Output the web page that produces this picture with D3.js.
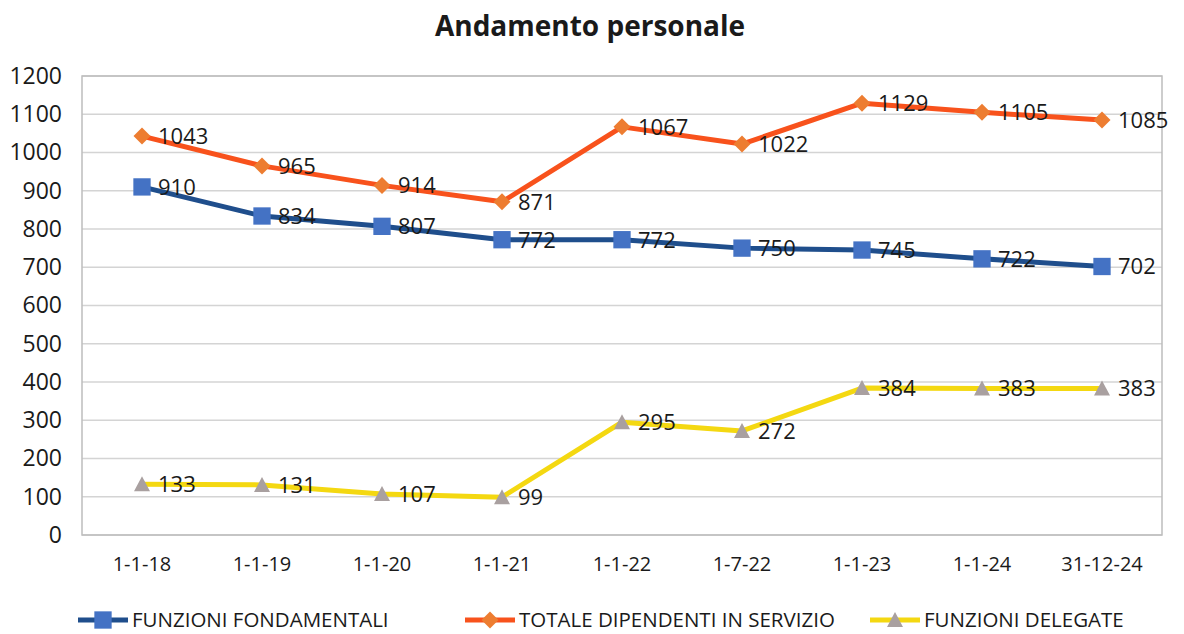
<!DOCTYPE html>
<html lang="it">
<head>
<meta charset="UTF-8">
<title>Andamento personale</title>
<script src="https://d3js.org/d3.v7.min.js"></script>
<style>
  body { margin: 0; background: #fff; }
  text { font-family: "Open Sans", "Noto Sans", sans-serif; fill: #1a1a1a; }
</style>
</head>
<body>
<script>
  var categories = ["1-1-18", "1-1-19", "1-1-20", "1-1-21", "1-1-22", "1-7-22", "1-1-23", "1-1-24", "31-12-24"];
  var fondamentali = [910, 834, 807, 772, 772, 750, 745, 722, 702];
  var totale = [1043, 965, 914, 871, 1067, 1022, 1129, 1105, 1085];
  var delegate = [133, 131, 107, 99, 295, 272, 384, 383, 383];
  var yTicks = [0, 100, 200, 300, 400, 500, 600, 700, 800, 900, 1000, 1100, 1200];

  var series = [
    { name: "FUNZIONI FONDAMENTALI", values: fondamentali, line: "#1f4e8c", marker: "#4472c4", shape: "square" },
    { name: "TOTALE DIPENDENTI IN SERVIZIO", values: totale, line: "#f8521c", marker: "#ed7d31", shape: "diamond" },
    { name: "FUNZIONI DELEGATE", values: delegate, line: "#f4d811", marker: "#a9a0a0", shape: "triangle" }
  ];

  var width = 1184, height = 634;
  var plotLeft = 82, plotRight = 1162, plotTop = 76, plotBottom = 535;

  var svg = d3.select("body").append("svg")
    .attr("width", width)
    .attr("height", height);

  var x = d3.scaleBand().domain(categories).range([plotLeft, plotRight]).padding(0);
  var y = d3.scaleLinear().domain([0, 1200]).range([plotBottom, plotTop]);
  var cx = function (c) { return x(c) + x.bandwidth() / 2; };

  // title
  svg.append("text")
    .attr("x", 590).attr("y", 36)
    .attr("text-anchor", "middle")
    .style("font-size", "28px").style("font-weight", "bold")
    .text("Andamento personale");

  // gridlines
  svg.append("g").selectAll("line")
    .data(yTicks)
    .enter().append("line")
    .attr("x1", plotLeft).attr("x2", plotRight)
    .attr("y1", d => y(d)).attr("y2", d => y(d))
    .attr("stroke", "#d4d4d4").attr("stroke-width", 1.5);

  // frame
  svg.append("rect")
    .attr("x", plotLeft).attr("y", plotTop)
    .attr("width", plotRight - plotLeft).attr("height", plotBottom - plotTop)
    .attr("fill", "none").attr("stroke", "#bdbdbd").attr("stroke-width", 1.5);

  // y axis labels
  var yAxis = d3.axisLeft(y).tickValues(yTicks).tickFormat(d3.format("d")).tickSize(0).tickPadding(20);
  var ga = svg.append("g").attr("transform", "translate(" + plotLeft + ",0)").call(yAxis);
  ga.select(".domain").remove();
  ga.selectAll("text").style("font-size", "23px").attr("fill", "#1a1a1a");

  // x axis labels
  var xAxis = d3.axisBottom(x).tickSize(0).tickPadding(22);
  var gx = svg.append("g").attr("transform", "translate(0," + plotBottom + ")").call(xAxis);
  gx.select(".domain").remove();
  gx.selectAll("text").style("font-size", "20px").attr("fill", "#1a1a1a");

  function markerPath(shape) {
    if (shape === "square") return d3.symbol().type(d3.symbolSquare).size(300)();
    if (shape === "diamond") return "M0,-8.5L8.5,0L0,8.5L-8.5,0Z";
    return "M0,-8L8,7L-8,7Z";
  }

  var line = d3.line()
    .x((d, i) => cx(categories[i]))
    .y(d => y(d));

  series.forEach(function (s) {
    var g = svg.append("g");
    g.append("path")
      .attr("d", line(s.values))
      .attr("fill", "none")
      .attr("stroke", s.line)
      .attr("stroke-width", 5)
      .attr("stroke-linejoin", "round");
    g.selectAll("path.mk")
      .data(s.values)
      .enter().append("path")
      .attr("class", "mk")
      .attr("transform", (d, i) => "translate(" + cx(categories[i]) + "," + y(d) + ")")
      .attr("d", markerPath(s.shape))
      .attr("fill", s.marker);
    g.selectAll("text")
      .data(s.values)
      .enter().append("text")
      .attr("x", (d, i) => cx(categories[i]) + 16)
      .attr("y", d => y(d))
      .attr("dy", "0.36em")
      .style("font-size", "22px")
      .text(d => d);
  });

  // legend
  var legendX = [78, 465, 870];
  var leg = svg.append("g").selectAll("g")
    .data(series)
    .enter().append("g")
    .attr("transform", (d, i) => "translate(" + legendX[i] + ",620)");
  leg.append("line")
    .attr("x1", 0).attr("x2", 50)
    .attr("stroke", d => d.line).attr("stroke-width", 5);
  leg.append("path")
    .attr("transform", "translate(25,0)")
    .attr("d", d => markerPath(d.shape))
    .attr("fill", d => d.marker);
  leg.append("text")
    .attr("x", 54).attr("dy", "0.36em")
    .style("font-size", "20.5px")
    .text(d => d.name);
</script>
</body>
</html>
